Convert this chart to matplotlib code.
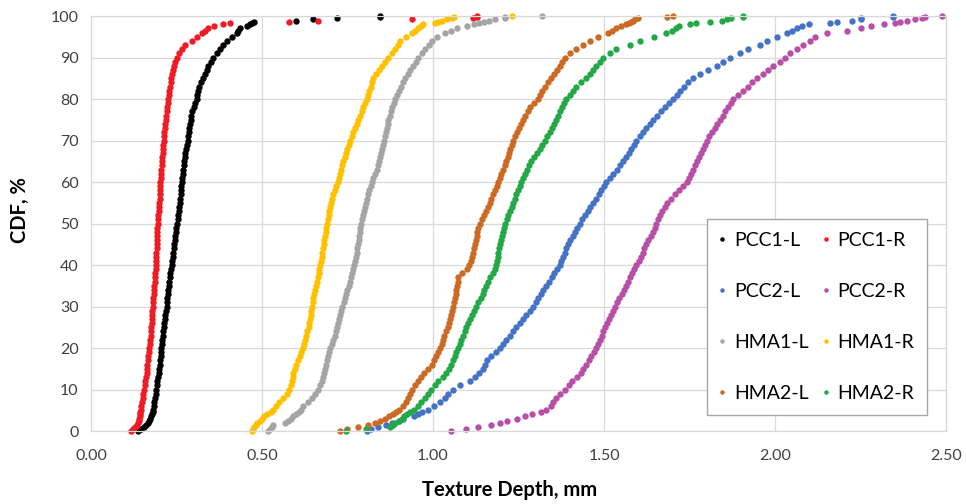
import sys
import matplotlib
matplotlib.use("Agg")
import matplotlib.pyplot as plt
from matplotlib.ticker import FuncFormatter

# CDF levels (%) at which texture depth was read for every series
cdf_levels = [
    0, 0.5, 1, 1.5, 2, 2.5, 3, 3.5, 4, 4.5, 5,
    6, 7, 8, 9, 10, 11, 12, 13, 14, 15,
    16, 17, 18, 19, 20, 21, 22, 23, 24, 25,
    26, 27, 28, 29, 30, 31, 32, 33, 34, 35,
    36, 37, 38, 39, 40, 41, 42, 43, 44, 45,
    46, 47, 48, 49, 50, 51, 52, 53, 54, 55,
    56, 57, 58, 59, 60, 61, 62, 63, 64, 65,
    66, 67, 68, 69, 70, 71, 72, 73, 74, 75,
    76, 77, 78, 79, 80, 81, 82, 83, 84, 85,
    86, 87, 88, 89, 90, 91, 92, 93, 94, 95,
    96, 96.5, 97, 97.5, 98, 98.3, 98.6, 98.9, 99.2, 99.5, 99.8, 100,
]

# texture depth (mm) per series
pcc1_l = [
    0.138, 0.145, 0.155, 0.162, 0.166, 0.170, 0.173, 0.176, 0.178, 0.180, 0.181,
    0.183, 0.185, 0.187, 0.189, 0.190, 0.192, 0.194, 0.196, 0.198, 0.200,
    0.202, 0.203, 0.204, 0.205, 0.206, 0.207, 0.208, 0.210, 0.211, 0.212,
    0.214, 0.215, 0.217, 0.219, 0.221, 0.222, 0.223, 0.224, 0.226, 0.227,
    0.229, 0.230, 0.232, 0.234, 0.236, 0.238, 0.240, 0.241, 0.243, 0.244,
    0.245, 0.246, 0.248, 0.250, 0.251, 0.253, 0.255, 0.257, 0.258, 0.260,
    0.261, 0.262, 0.263, 0.264, 0.265, 0.266, 0.268, 0.269, 0.271, 0.272,
    0.274, 0.276, 0.278, 0.280, 0.283, 0.285, 0.286, 0.288, 0.290, 0.291,
    0.293, 0.296, 0.300, 0.305, 0.309, 0.311, 0.313, 0.317, 0.322, 0.328,
    0.333, 0.338, 0.343, 0.350, 0.358, 0.367, 0.377, 0.387, 0.397, 0.411,
    0.426, 0.431, 0.436, 0.455, 0.465, 0.472, 0.476, 0.598, 0.650, 0.720, 0.845, 0.845,
]
pcc1_r = [
    0.116, 0.122, 0.130, 0.135, 0.138, 0.140, 0.141, 0.142, 0.143, 0.144, 0.145,
    0.147, 0.149, 0.151, 0.153, 0.155, 0.157, 0.159, 0.161, 0.163, 0.164,
    0.165, 0.166, 0.168, 0.170, 0.171, 0.172, 0.173, 0.174, 0.175, 0.176,
    0.177, 0.177, 0.178, 0.179, 0.180, 0.181, 0.182, 0.183, 0.184, 0.185,
    0.186, 0.187, 0.188, 0.189, 0.190, 0.190, 0.191, 0.191, 0.192, 0.192,
    0.193, 0.193, 0.194, 0.194, 0.195, 0.196, 0.197, 0.198, 0.199, 0.200,
    0.201, 0.201, 0.202, 0.202, 0.203, 0.204, 0.205, 0.206, 0.207, 0.208,
    0.209, 0.210, 0.210, 0.211, 0.212, 0.213, 0.214, 0.215, 0.216, 0.218,
    0.219, 0.221, 0.222, 0.224, 0.226, 0.228, 0.229, 0.231, 0.233, 0.235,
    0.237, 0.240, 0.243, 0.247, 0.252, 0.258, 0.265, 0.275, 0.294, 0.309,
    0.324, 0.333, 0.343, 0.360, 0.385, 0.405, 0.578, 0.663, 0.940, 1.117, 1.130, 1.130,
]
pcc2_l = [
    0.806, 0.820, 0.840, 0.862, 0.880, 0.900, 0.913, 0.943, 0.955, 0.968, 0.985,
    1.003, 1.020, 1.034, 1.045, 1.058, 1.080, 1.107, 1.122, 1.135, 1.146,
    1.152, 1.158, 1.170, 1.183, 1.195, 1.205, 1.214, 1.224, 1.234, 1.244,
    1.254, 1.264, 1.273, 1.283, 1.292, 1.300, 1.308, 1.316, 1.323, 1.331,
    1.339, 1.347, 1.355, 1.362, 1.370, 1.375, 1.380, 1.385, 1.390, 1.395,
    1.402, 1.409, 1.416, 1.422, 1.429, 1.437, 1.445, 1.452, 1.460, 1.468,
    1.476, 1.484, 1.491, 1.499, 1.507, 1.517, 1.527, 1.537, 1.546, 1.556,
    1.564, 1.572, 1.580, 1.588, 1.595, 1.605, 1.614, 1.624, 1.634, 1.643,
    1.655, 1.667, 1.679, 1.690, 1.702, 1.712, 1.722, 1.735, 1.747, 1.761,
    1.781, 1.805, 1.829, 1.849, 1.868, 1.898, 1.922, 1.956, 1.976, 2.005,
    2.034, 2.050, 2.065, 2.080, 2.100, 2.160, 2.180, 2.224, 2.250, 2.250, 2.346, 2.346,
]
pcc2_r = [
    1.054, 1.097, 1.132, 1.171, 1.195, 1.215, 1.245, 1.270, 1.290, 1.315, 1.330,
    1.345, 1.350, 1.360, 1.372, 1.385, 1.397, 1.407, 1.420, 1.432, 1.440,
    1.447, 1.455, 1.463, 1.470, 1.478, 1.483, 1.488, 1.493, 1.498, 1.502,
    1.508, 1.514, 1.520, 1.525, 1.531, 1.538, 1.545, 1.552, 1.558, 1.565,
    1.571, 1.577, 1.583, 1.589, 1.595, 1.601, 1.607, 1.613, 1.618, 1.624,
    1.630, 1.636, 1.642, 1.648, 1.653, 1.659, 1.665, 1.671, 1.677, 1.683,
    1.695, 1.708, 1.718, 1.730, 1.742, 1.748, 1.754, 1.760, 1.765, 1.771,
    1.777, 1.783, 1.789, 1.795, 1.800, 1.808, 1.816, 1.824, 1.831, 1.839,
    1.847, 1.855, 1.863, 1.870, 1.878, 1.893, 1.907, 1.920, 1.932, 1.946,
    1.966, 1.980, 1.995, 2.015, 2.029, 2.044, 2.063, 2.083, 2.102, 2.117,
    2.151, 2.210, 2.250, 2.280, 2.320, 2.350, 2.365, 2.385, 2.410, 2.430, 2.440, 2.487,
]
hma1_l = [
    0.518, 0.522, 0.528, 0.533, 0.567, 0.575, 0.585, 0.592, 0.600, 0.607, 0.614,
    0.621, 0.634, 0.646, 0.656, 0.665, 0.671, 0.675, 0.678, 0.682, 0.685,
    0.688, 0.691, 0.694, 0.697, 0.700, 0.704, 0.708, 0.712, 0.716, 0.720,
    0.723, 0.726, 0.729, 0.732, 0.735, 0.739, 0.743, 0.746, 0.750, 0.753,
    0.756, 0.759, 0.762, 0.766, 0.769, 0.772, 0.775, 0.777, 0.779, 0.781,
    0.783, 0.785, 0.786, 0.788, 0.790, 0.793, 0.796, 0.799, 0.802, 0.804,
    0.807, 0.810, 0.814, 0.818, 0.821, 0.826, 0.831, 0.835, 0.839, 0.843,
    0.846, 0.849, 0.852, 0.854, 0.857, 0.860, 0.862, 0.865, 0.867, 0.869,
    0.873, 0.877, 0.881, 0.885, 0.889, 0.894, 0.900, 0.906, 0.912, 0.918,
    0.926, 0.934, 0.942, 0.950, 0.957, 0.967, 0.977, 0.987, 0.996, 1.011,
    1.035, 1.052, 1.070, 1.100, 1.120, 1.135, 1.150, 1.165, 1.180, 1.210, 1.210, 1.320,
]
hma1_r = [
    0.470, 0.474, 0.478, 0.482, 0.486, 0.494, 0.500, 0.506, 0.516, 0.525, 0.533,
    0.542, 0.550, 0.560, 0.572, 0.580, 0.585, 0.588, 0.590, 0.592, 0.596,
    0.600, 0.605, 0.610, 0.615, 0.620, 0.623, 0.627, 0.630, 0.633, 0.636,
    0.638, 0.640, 0.642, 0.644, 0.646, 0.648, 0.650, 0.653, 0.656, 0.659,
    0.662, 0.664, 0.666, 0.668, 0.670, 0.672, 0.674, 0.676, 0.678, 0.680,
    0.682, 0.684, 0.686, 0.688, 0.691, 0.693, 0.695, 0.697, 0.699, 0.701,
    0.705, 0.709, 0.713, 0.717, 0.721, 0.724, 0.728, 0.731, 0.735, 0.738,
    0.742, 0.745, 0.749, 0.753, 0.757, 0.762, 0.767, 0.772, 0.777, 0.782,
    0.787, 0.792, 0.796, 0.801, 0.806, 0.810, 0.814, 0.818, 0.822, 0.826,
    0.834, 0.842, 0.850, 0.860, 0.869, 0.879, 0.889, 0.897, 0.904, 0.921,
    0.938, 0.947, 0.957, 0.964, 0.970, 1.005, 1.015, 1.025, 1.040, 1.055, 1.060, 1.232,
]
hma2_l = [
    0.728, 0.750, 0.780, 0.810, 0.830, 0.845, 0.860, 0.872, 0.882, 0.891, 0.900,
    0.912, 0.920, 0.927, 0.933, 0.940, 0.948, 0.956, 0.965, 0.975, 0.986,
    0.996, 1.003, 1.010, 1.015, 1.020, 1.025, 1.029, 1.033, 1.038, 1.043,
    1.046, 1.049, 1.052, 1.055, 1.058, 1.061, 1.064, 1.066, 1.068, 1.070,
    1.072, 1.074, 1.085, 1.098, 1.106, 1.110, 1.113, 1.116, 1.119, 1.122,
    1.125, 1.128, 1.130, 1.133, 1.136, 1.142, 1.148, 1.154, 1.160, 1.166,
    1.171, 1.176, 1.181, 1.186, 1.190, 1.195, 1.200, 1.205, 1.210, 1.214,
    1.218, 1.222, 1.226, 1.230, 1.234, 1.240, 1.246, 1.252, 1.258, 1.263,
    1.270, 1.277, 1.283, 1.296, 1.307, 1.314, 1.320, 1.327, 1.337, 1.346,
    1.354, 1.362, 1.370, 1.377, 1.385, 1.402, 1.419, 1.439, 1.458, 1.482,
    1.512, 1.524, 1.536, 1.550, 1.565, 1.572, 1.578, 1.585, 1.592, 1.600, 1.683, 1.703,
]
hma2_r = [
    0.746, 0.804, 0.874, 0.882, 0.890, 0.900, 0.908, 0.915, 0.925, 0.934, 0.943,
    0.955, 0.966, 0.976, 0.986, 0.995, 1.005, 1.016, 1.028, 1.038, 1.046,
    1.052, 1.058, 1.063, 1.068, 1.073, 1.078, 1.083, 1.088, 1.093, 1.097,
    1.103, 1.109, 1.115, 1.121, 1.127, 1.133, 1.139, 1.145, 1.150, 1.156,
    1.162, 1.168, 1.174, 1.180, 1.185, 1.187, 1.189, 1.191, 1.193, 1.195,
    1.198, 1.201, 1.204, 1.207, 1.210, 1.215, 1.220, 1.225, 1.230, 1.234,
    1.239, 1.244, 1.249, 1.254, 1.258, 1.264, 1.270, 1.276, 1.282, 1.288,
    1.296, 1.304, 1.312, 1.320, 1.327, 1.334, 1.341, 1.348, 1.354, 1.360,
    1.366, 1.372, 1.378, 1.384, 1.390, 1.400, 1.410, 1.419, 1.433, 1.448,
    1.458, 1.468, 1.478, 1.488, 1.497, 1.517, 1.536, 1.575, 1.604, 1.645,
    1.680, 1.700, 1.710, 1.720, 1.750, 1.770, 1.810, 1.845, 1.860, 1.870, 1.905, 1.905,
]

series_names = ["PCC1-L", "PCC1-R", "PCC2-L", "PCC2-R",
                "HMA1-L", "HMA1-R", "HMA2-L", "HMA2-R"]
series_data = [pcc1_l, pcc1_r, pcc2_l, pcc2_r, hma1_l, hma1_r, hma2_l, hma2_r]
colors = ["#000000", "#EE1C25", "#4472C4", "#B84FA6",
          "#A5A5A5", "#FFC000", "#CC6A24", "#22A845"]

x_ticks = [0.0, 0.5, 1.0, 1.5, 2.0, 2.5]
y_ticks = [0, 10, 20, 30, 40, 50, 60, 70, 80, 90, 100]

plt.rcParams["font.family"] = ["Lato", "DejaVu Sans"]

fig = plt.figure(figsize=(9.66, 5.04), dpi=100)
ax = fig.add_axes([0.0942, 0.1448, 0.8851, 0.8234])

handles = []
for name, vals, col in zip(series_names, series_data, colors):
    n = min(len(vals), len(cdf_levels))
    if len(vals) != len(cdf_levels):
        print("length mismatch", name, len(vals), len(cdf_levels), file=sys.stderr)
    h, = ax.plot(vals[:n], cdf_levels[:n], linestyle="none", marker="o",
                 markersize=4.6, markeredgewidth=0, color=col, label=name,
                 clip_on=False)
    handles.append(h)

ax.set_xlim(0, 2.5)
ax.set_ylim(0, 100)
ax.set_xticks(x_ticks)
ax.set_yticks(y_ticks)
ax.xaxis.set_major_formatter(FuncFormatter(lambda v, p: f"{v:.2f}"))
ax.grid(True, color="#D9D9D9", linewidth=0.9)
ax.set_axisbelow(True)
for s in ax.spines.values():
    s.set_color("#D9D9D9")
    s.set_linewidth(0.9)
ax.tick_params(length=0, labelsize=11.5, labelcolor="#404040")
ax.tick_params(axis="x", pad=13)
ax.tick_params(axis="y", pad=9)

fig.text(0.528, 0.028, "Texture Depth, mm", ha="center", va="center",
         fontsize=14.5, fontweight="bold")
fig.text(0.021, 0.583, "CDF, %", ha="center", va="center", rotation=90,
         fontsize=14.5, fontweight="bold")

# legend filled row by row like the original
order = [0, 2, 4, 6, 1, 3, 5, 7]
leg = ax.legend([handles[i] for i in order], [series_names[i] for i in order],
                ncol=2, loc="upper left", bbox_to_anchor=(0.7201, 0.5101),
                borderaxespad=0, fontsize=14, markerscale=0.7, handlelength=0.3,
                handletextpad=0.45, columnspacing=0.75, labelspacing=1.75,
                borderpad=0.65, frameon=True, fancybox=False, framealpha=1)
leg.get_frame().set_edgecolor("#A6A6A6")
leg.get_frame().set_linewidth(1.0)

fig.savefig("out.png", dpi=100)
